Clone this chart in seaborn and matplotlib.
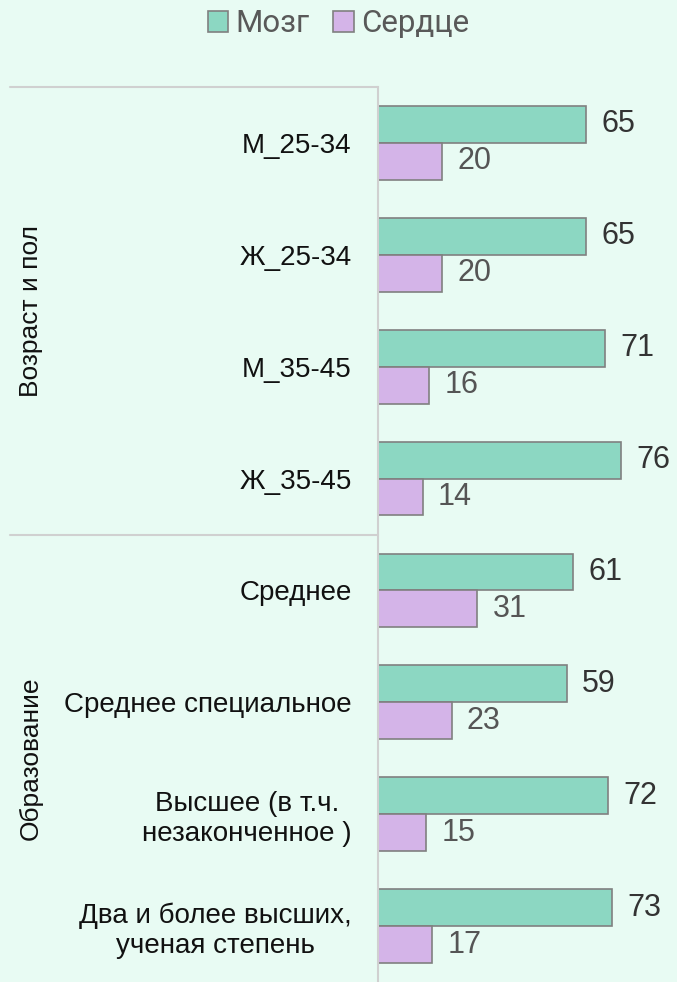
import seaborn as sns
import matplotlib.pyplot as plt
import matplotlib.transforms as mtransforms
from matplotlib.patches import Patch
import pandas as pd

# data
categories = ["М_25-34", "Ж_25-34", "М_35-45", "Ж_35-45",
              "Среднее", "Среднее специальное",
              "Высшее (в т.ч.\nнезаконченное )",
              "Два и более высших,\nученая степень"]
brain = [65, 65, 71, 76, 61, 59, 72, 73]
heart = [20, 20, 16, 14, 31, 23, 15, 17]
series = ["Мозг", "Сердце"]
groups = ["Возраст и пол", "Образование"]

bg = "#E8FBF3"
colors = ["#8CD7C2", "#D4B4E8"]

df = pd.DataFrame({
    "cat": categories * 2,
    "value": brain + heart,
    "series": [series[0]] * len(brain) + [series[1]] * len(heart),
})

sns.set_style("white")
plt.rcParams["font.family"] = ["Liberation Sans", "DejaVu Sans"]

fig = plt.figure(figsize=(6.77, 9.82), dpi=100, facecolor=bg)
ax = fig.add_axes([378 / 677, 0.0, 1 - 378 / 677, 1 - 87 / 982])
ax.set_facecolor(bg)

sns.barplot(data=df, y="cat", x="value", hue="series", orient="h",
            palette=colors, saturation=1, width=0.66, edgecolor="#808080",
            linewidth=1.2, ax=ax, legend=False)

ax.set_xlim(0, 93.4)
ax.set_ylim(7.5, -0.5)
ax.set_xlabel("")
ax.set_ylabel("")
ax.set_xticks([])
for s in ["top", "right", "bottom"]:
    ax.spines[s].set_visible(False)
ax.spines["left"].set_color("#D0D0D0")
ax.spines["left"].set_linewidth(1.5)

ax.tick_params(axis="y", length=0, pad=19)
for lab in ax.get_yticklabels():
    lab.set_fontsize(20)
    lab.set_color("#111111")
    lab.set_multialignment("center")

# value labels
for cont, col in zip(ax.containers, ["#333333", "#555555"]):
    ax.bar_label(cont, padding=11, fontsize=22, color=col)

# group separators and group names
trans = mtransforms.blended_transform_factory(fig.transFigure, ax.transData)
for yv in [-0.5, 3.5]:
    ax.plot([10 / 677, 378 / 677], [yv, yv], transform=trans, color="#D0D0D0",
            lw=1.5, clip_on=False)
for g, yc in zip(groups, [1.5, 5.5]):
    ax.text(31 / 677, yc, g, transform=trans, rotation=90, ha="center",
            va="center", fontsize=19, color="#111111")

handles = [Patch(facecolor=c, edgecolor="#808080", linewidth=1.2) for c in colors]
fig.legend(handles, series, loc="center", bbox_to_anchor=(0.50, 1 - 24 / 982),
           ncol=2, frameon=False, handlelength=0.65, handleheight=0.65,
           handletextpad=0.25, columnspacing=0.75, labelcolor="#595959",
           prop={"family": ["Roboto", "DejaVu Sans"], "size": 22.5})

fig.savefig("out.png", dpi=100, facecolor=bg)
